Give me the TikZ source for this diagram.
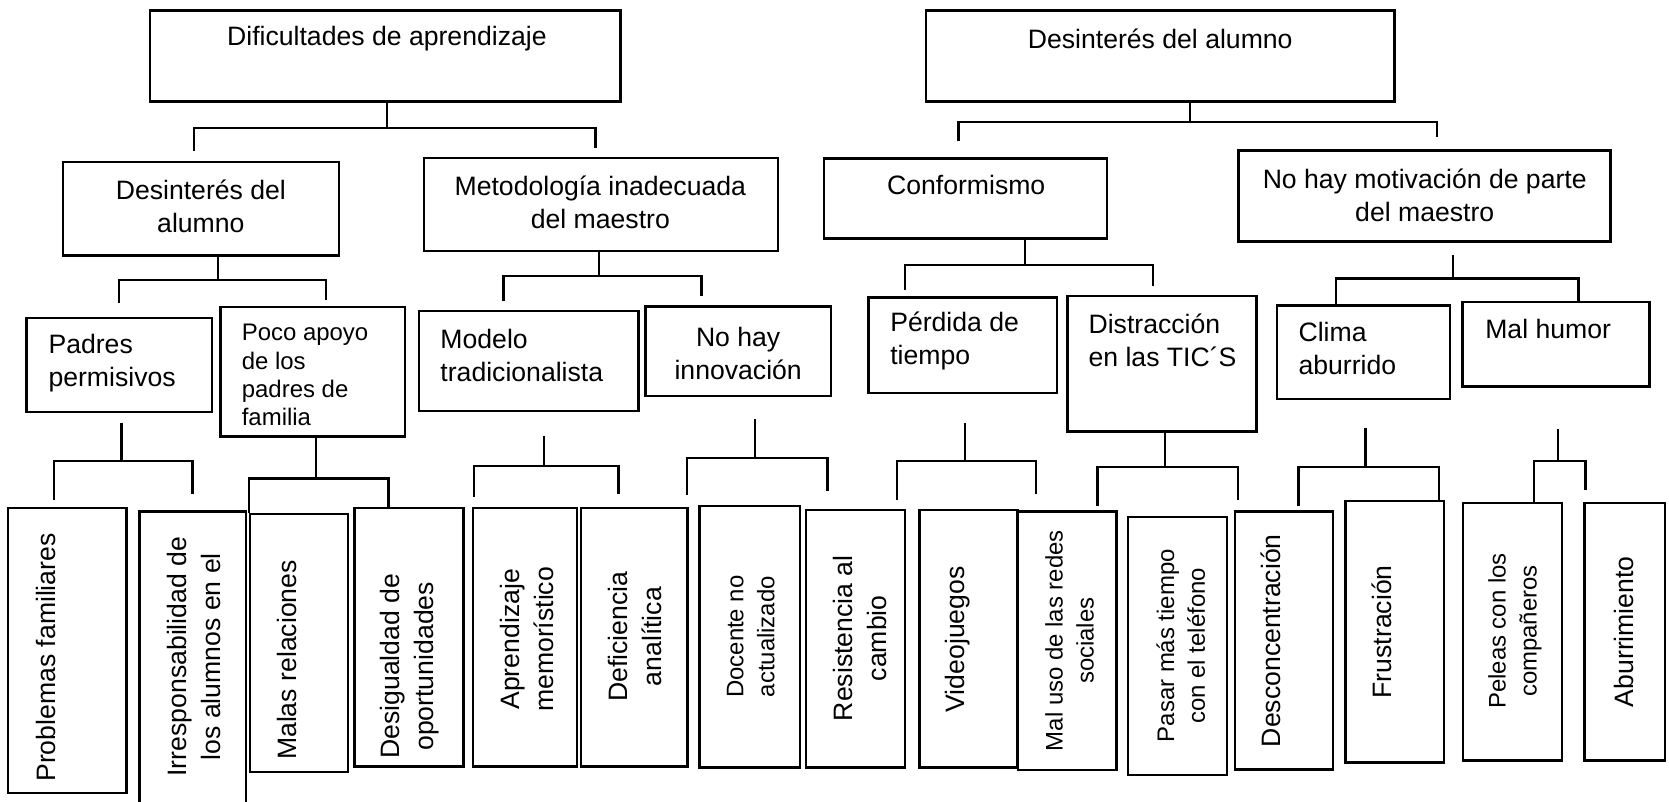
\documentclass[tikz,border=0pt]{standalone}
\usepackage{fontspec}
\setmainfont{Liberation Sans}
\usetikzlibrary{fit}

\begin{document}
\begin{tikzpicture}[x=1pt,y=-1pt]
	\tikzstyle{caja}=[draw, line width=2.2pt, inner sep=0pt]
	\tikzstyle{texto}=[inner sep=0pt, font=\fontsize{25}{31}\selectfont, align=center]
	\tikzstyle{izq}=[texto, align=left, anchor=west]
	\tikzstyle{chico}=[font=\fontsize{22.5}{26.5}\selectfont]
	\tikzstyle{vert}=[texto, rotate=90, font=\fontsize{25}{32}\selectfont]
	\tikzstyle{vchico}=[vert, font=\fontsize{22.5}{29}\selectfont]
	\tikzstyle{linea}=[line width=2.2pt]
	\path[fill=white, use as bounding box] (0,0) rectangle (1568,753);

	% nivel 1
	\node[caja, fit={(141,10) (583,95.5)}] (b1) {};
	\node[caja, fit={(870,10) (1310,95.5)}] (b2) {};
	\node[texto] (b1t) at (363.5,36.6) {Dificultades de aprendizaje};
	\node[texto] (b2t) at (1090,36.6) {Desinterés del alumno};

	% nivel 2
	\node[caja, fit={(59,152) (318.5,240)}] (c1) {};
	\node[caja, fit={(398.5,148.5) (731,236)}] (c2) {};
	\node[caja, fit={(774,149) (1040,224)}] (c3) {};
	\node[caja, fit={(1163.5,141.5) (1513,227)}] (c4) {};
	\node[texto] (c1t) at (188.7,194.2) {Desinterés del\\alumno};
	\node[texto] (c2t) at (564,190.2) {Metodología inadecuada\\del maestro};
	\node[texto] (c3t) at (907.7,173.8) {Conformismo};
	\node[texto] (c4t) at (1338.5,183.7) {No hay motivación de parte\\del maestro};

	% nivel 3
	\node[caja, fit={(25,299) (199,387)}] (d1) {};
	\node[caja, fit={(207,288.5) (380.5,410)}] (d2) {};
	\node[caja, fit={(393.5,292) (600,386)}] (d3) {};
	\node[caja, fit={(606.5,288) (781,372)}] (d4) {};
	\node[caja, fit={(816,279.5) (993,369.5)}] (d5) {};
	\node[caja, fit={(1003,278) (1180.5,405.5)}] (d6) {};
	\node[caja, fit={(1199.5,287) (1362,375)}] (d7) {};
	\node[caja, fit={(1374,283.5) (1549.5,363)}] (d8) {};
	\node[izq] (d1t) at (45.4,341.4) {Padres\\permisivos};
	\node[izq, chico] (d2t) at (227,352.3) {Poco apoyo\\de los\\padres de\\familia};
	\node[izq] (d3t) at (413.6,333.9) {Modelo\\tradicionalista};
	\node[texto] (d4t) at (693.5,331.7) {No hay\\innovación};
	\node[izq] (d5t) at (836.2,320.7) {Pérdida de\\tiempo};
	\node[izq] (d6t) at (1022.5,319.8) {Distracción\\en las TIC´S};
	\node[izq] (d7t) at (1219.8,327.3) {Clima\\aburrido};
	\node[izq] (d8t) at (1395.2,309.4) {Mal humor};

	% nivel 4
	\node[caja, fit={(7.5,477.5) (119,745)}] (e1) {};
	\node[caja, fit={(131,480.5) (231,756)}] (e2) {};
	\node[caja, fit={(235,483) (327,725)}] (e3) {};
	\node[caja, fit={(333,477.5) (435.5,720)}] (e4) {};
	\node[caja, fit={(444.5,477.5) (542,720)}] (e5) {};
	\node[caja, fit={(546,477.5) (646,720)}] (e6) {};
	\node[caja, fit={(657,475.5) (751.5,721)}] (e7) {};
	\node[caja, fit={(757,479) (850,721)}] (e8) {};
	\node[caja, fit={(864,479) (956,721)}] (e9) {};
	\node[caja, fit={(956.5,480.5) (1049,723.5)}] (e10) {};
	\node[caja, fit={(1059.5,486) (1153,728)}] (e11) {};
	\node[caja, fit={(1160,480.5) (1252.5,723)}] (e12) {};
	\node[caja, fit={(1264,470.5) (1356.5,716.5)}] (e13) {};
	\node[caja, fit={(1374.5,472.5) (1467.5,714.5)}] (e14) {};
	\node[caja, fit={(1488.5,472.5) (1564.5,714.5)}] (e15) {};
	\node[vert] (e1t) at (42.9,617.7) {Problemas familiares};
	\node[vert] (e2t) at (181.9,616.9) {Irresponsabilidad de\\los alumnos en el};
	\node[vert] (e3t) at (269.3,620.1) {Malas relaciones};
	\node[vert] (e4t) at (384.8,626) {Desigualdad de\\oportunidades};
	\node[vert] (e5t) at (494.7,600.7) {Aprendizaje\\memorístico};
	\node[vert] (e6t) at (596.9,598.1) {Deficiencia\\analítica};
	\node[vchico] (e7t) at (705.3,598.1) {Docente no\\actualizado};
	\node[vert] (e8t) at (808.1,599.7) {Resistencia al\\cambio};
	\node[vert] (e9t) at (899.9,600.7) {Videojuegos};
	\node[vchico] (e10t) at (1004.8,601.9) {Mal uso de las redes\\sociales};
	\node[vchico] (e11t) at (1109.3,606.6) {Pasar más tiempo\\con el teléfono};
	\node[vert] (e12t) at (1193.6,601.9) {Desconcentración};
	\node[vert] (e13t) at (1298.3,593.5) {Frustración};
	\node[vchico] (e14t) at (1423.2,592.8) {Peleas con los\\compañeros};
	\node[vert] (e15t) at (1526,593.5) {Aburrimiento};

	% conectores
	\draw[linea] (b1.south -| 363.5,0) -- (363.5,120.5) coordinate (j1);
	\draw[linea, shorten >=9pt] (j1) -| (c1.north -| 182,0);
	\draw[linea, shorten >=8pt] (j1) -| (c2.north -| 559.5,0);

	\draw[linea] (b2.south -| 1118,0) -- (1118,114.5) coordinate (j2);
	\draw[linea, shorten >=15pt] (j2) -| (c3.north -| 900.5,0);
	\draw[linea, shorten >=11.5pt] (j2) -| (c4.north -| 1350,0);

	\draw[linea] (c1.south -| 205,0) -- (205,263) coordinate (j3);
	\draw[linea, shorten >=13.5pt] (j3) -| (d1.north -| 112,0);
	\draw[linea, shorten >=6pt] (j3) -| (d2.north -| 306,0);

	\draw[linea] (c2.south -| 562.5,0) -- (562.5,259.5) coordinate (j4);
	\draw[linea, shorten >=8.5pt] (j4) -| (d3.north -| 473,0);
	\draw[linea, shorten >=8.5pt] (j4) -| (d4.north -| 659,0);

	\draw[linea] (c3.south -| 963,0) -- (963,249) coordinate (j5);
	\draw[linea, shorten >=5.5pt] (j5) -| (d5.north -| 850.5,0);
	\draw[linea, shorten >=8.5pt] (j5) -| (d6.north -| 1083,0);

	\draw[linea, shorten <=11pt] (c4.south -| 1365,0) -- (1365,261.5) coordinate (j6);
	\draw[linea] (j6) -| (d7.north -| 1255,0);
	\draw[linea] (j6) -| (d8.north -| 1483,0);

	\draw[linea, shorten <=9pt] (d1.south -| 114,0) -- (114,433) coordinate (j7);
	\draw[linea, shorten >=6.5pt] (j7) -| (e1.north -| 50.5,0);
	\draw[linea, shorten >=15.5pt] (j7) -| (e2.north -| 181,0);

	\draw[linea] (d2.south -| 297,0) -- (297,449.5) coordinate (j8);
	\draw[linea] (j8) -| (e3.north -| 234,0);
	\draw[linea] (j8) -| (e4.north -| 365,0);

	\draw[linea, shorten <=22.5pt] (d3.south -| 511,0) -- (511,438) coordinate (j9);
	\draw[linea, shorten >=9.5pt] (j9) -| (e5.north -| 445.5,0);
	\draw[linea, shorten >=12.5pt] (j9) -| (e6.north -| 581,0);

	\draw[linea, shorten <=21pt] (d4.south -| 709.5,0) -- (709.5,430.5) coordinate (j10);
	\draw[linea, shorten >=9pt] (j10) -| (e7.north -| 645.5,0);
	\draw[linea, shorten >=17pt] (j10) -| (e8.north -| 777.5,0);

	\draw[linea, shorten <=26.5pt] (d5.south -| 906.5,0) -- (906.5,433) coordinate (j11);
	\draw[linea, shorten >=8.5pt] (j11) -| (e9.north -| 842.5,0);
	\draw[linea, shorten >=15.5pt] (j11) -| (e10.north -| 973.5,0);

	\draw[linea] (d6.south -| 1094.5,0) -- (1094.5,439) coordinate (j12);
	\draw[linea, shorten >=10pt] (j12) -| (e11.north -| 1031,0);
	\draw[linea, shorten >=9.5pt] (j12) -| (e12.north -| 1163,0);

	\draw[linea, shorten <=26pt] (d7.south -| 1283,0) -- (1283,439) coordinate (j13);
	\draw[linea, shorten >=4.5pt] (j13) -| (e12.north -| 1220,0);
	\draw[linea] (j13) -| (e13.north -| 1352,0);

	\draw[linea, shorten <=39pt] (d8.south -| 1463.5,0) -- (1463.5,433) coordinate (j14);
	\draw[linea] (j14) -| (e14.north -| 1441,0);
	\draw[linea, shorten >=11pt] (j14) -| (e15.north -| 1489.5,0);
\end{tikzpicture}
\end{document}
